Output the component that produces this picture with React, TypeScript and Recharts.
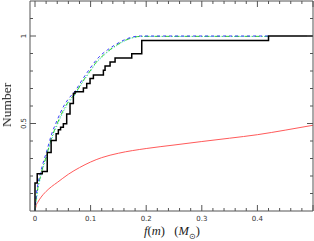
import React from 'react'
import { LineChart, Line, XAxis, YAxis } from 'recharts'

// ── data ─────────────────────────────────────────────────────────────────────

// observed cumulative fraction (black step line)
const stepX = [0, 0, 0.004, 0.013, 0.022, 0.029, 0.038, 0.042, 0.046, 0.051, 0.057, 0.063, 0.069, 0.072, 0.087, 0.093, 0.099, 0.105, 0.123, 0.126, 0.135, 0.144, 0.174, 0.192, 0.42, 0.5]
const stepY = [0, 0.16, 0.213, 0.226, 0.335, 0.403, 0.441, 0.464, 0.479, 0.498, 0.555, 0.614, 0.671, 0.682, 0.703, 0.728, 0.757, 0.777, 0.804, 0.829, 0.852, 0.875, 0.899, 0.975, 1.0, 1.0]

// model curves
const modelX = [0, 0.002, 0.005, 0.01, 0.015, 0.02, 0.03, 0.04, 0.05, 0.06, 0.072, 0.085, 0.099, 0.11, 0.12, 0.13, 0.147, 0.16, 0.175, 0.19, 0.42]
const blueY = [0, 0.08, 0.15, 0.22, 0.28, 0.33, 0.44, 0.52, 0.59, 0.64, 0.685, 0.75, 0.815, 0.862, 0.895, 0.92, 0.955, 0.977, 0.994, 1.0, 1.0]
const greenY = [0, 0.06, 0.13, 0.2, 0.26, 0.31, 0.42, 0.5, 0.57, 0.625, 0.67, 0.737, 0.8, 0.85, 0.882, 0.91, 0.948, 0.972, 0.99, 0.998, 0.998]
const cyanY = [0, 0.05, 0.12, 0.19, 0.25, 0.3, 0.41, 0.49, 0.56, 0.615, 0.665, 0.732, 0.795, 0.845, 0.877, 0.906, 0.945, 0.97, 0.989, 0.997, 0.997]

// red reference curve
const redX = [0, 0.002, 0.005, 0.01, 0.02, 0.03, 0.04, 0.05, 0.06, 0.08, 0.1, 0.12, 0.15, 0.2, 0.25, 0.3, 0.35, 0.4, 0.45, 0.5]
const redY = [0, 0.03, 0.05, 0.075, 0.112, 0.14, 0.163, 0.187, 0.21, 0.248, 0.28, 0.305, 0.33, 0.357, 0.377, 0.397, 0.416, 0.436, 0.462, 0.49]

const xTicks = [0, 0.02, 0.04, 0.06, 0.08, 0.1, 0.12, 0.14, 0.16, 0.18, 0.2, 0.22, 0.24, 0.26, 0.28, 0.3, 0.32, 0.34, 0.36, 0.38, 0.4, 0.42, 0.44, 0.46, 0.48, 0.5]
const xLabels = [0, 0.1, 0.2, 0.3, 0.4]
const yTicks = [0.1, 0.2, 0.3, 0.4, 0.5, 0.6, 0.7, 0.8, 0.9, 1, 1.1]
const yLabels = [0.5, 1]

const pts = (xs: number[], ys: number[]) => xs.map((x, i) => ({ x, y: ys[i] }))
const stepData = pts(stepX, stepY)
const blueData = pts(modelX, blueY)
const greenData = pts(modelX, greenY)
const cyanData = pts(modelX, cyanY)
const redData = pts(redX, redY)

const FRAME = '#555'
const near = (a: number, b: number) => Math.abs(a - b) < 1e-6
const isMajorX = (v: number) => near(v * 10, Math.round(v * 10))
const isMajorY = (v: number) => near(v * 2, Math.round(v * 2))
const fmt = (v: number) => (v === 0 ? '0' : near(v, 1) ? '1' : v.toFixed(1))

const tickFont = { fontSize: 7, fill: '#333', fontFamily: 'DejaVu Sans' }

const XTick = ({ x, y, payload, side }: any) => {
  const v = payload.value
  const len = isMajorX(v) ? 6 : 3
  const dir = side === 'top' ? 1 : -1
  return (
    <g>
      <line x1={x} x2={x} y1={y} y2={y + dir * len} stroke={FRAME} />
      {side === 'bottom' && xLabels.some(l => near(l, v)) && (
        <text x={x} y={y + 10} textAnchor="middle" {...tickFont}>{fmt(v)}</text>
      )}
    </g>
  )
}

const YTick = ({ x, y, payload, side }: any) => {
  const v = payload.value
  const len = isMajorY(v) ? 6 : 3
  const dir = side === 'left' ? 1 : -1
  return (
    <g>
      <line x1={x} x2={x + dir * len} y1={y} y2={y} stroke={FRAME} />
      {side === 'left' && yLabels.some(l => near(l, v)) && (
        <text x={x - 4} y={y} textAnchor="middle" transform={`rotate(-90, ${x - 4}, ${y})`} {...tickFont}>{fmt(v)}</text>
      )}
    </g>
  )
}

export default function App() {
  return (
    <div style={{ position: 'fixed', left: 0, top: 0, width: 314, height: 241, background: '#fff' }}>
      <LineChart width={314} height={241} margin={{ top: 0, right: 0, left: 29, bottom: 29 }}>
        <XAxis
          xAxisId="b" dataKey="x" type="number" domain={[-0.009, 0.5]} ticks={xTicks} interval={0}
          height={1} tickSize={0} tickMargin={0} tickLine={false} allowDataOverflow
          axisLine={{ stroke: FRAME }} tick={(p: any) => <XTick {...p} side="bottom" />}
        />
        <XAxis
          xAxisId="t" orientation="top" dataKey="x" type="number" domain={[-0.009, 0.5]} ticks={xTicks} interval={0}
          height={1} tickSize={0} tickMargin={0} tickLine={false} allowDataOverflow
          axisLine={{ stroke: FRAME }} tick={(p: any) => <XTick {...p} side="top" />}
        />
        <YAxis
          yAxisId="l" dataKey="y" type="number" domain={[0, 1.2]} ticks={yTicks} interval={0}
          width={1} tickSize={0} tickMargin={0} tickLine={false} allowDataOverflow
          axisLine={{ stroke: FRAME }} tick={(p: any) => <YTick {...p} side="left" />}
        />
        <YAxis
          yAxisId="r" orientation="right" dataKey="y" type="number" domain={[0, 1.2]} ticks={yTicks} interval={0}
          width={1} tickSize={0} tickMargin={0} tickLine={false} allowDataOverflow
          axisLine={{ stroke: FRAME }} tick={(p: any) => <YTick {...p} side="right" />}
        />
        <Line xAxisId="b" yAxisId="l" data={redData} dataKey="y" type="monotone" stroke="#ff5a5a" strokeWidth={1} dot={false} isAnimationActive={false} />
        <Line xAxisId="b" yAxisId="l" data={cyanData} dataKey="y" type="monotone" stroke="#33dddd" strokeWidth={1} strokeDasharray="1 2" dot={false} isAnimationActive={false} />
        <Line xAxisId="b" yAxisId="l" data={greenData} dataKey="y" type="monotone" stroke="#33cc33" strokeWidth={1} strokeDasharray="5 2 1 2" dot={false} isAnimationActive={false} />
        <Line xAxisId="b" yAxisId="l" data={blueData} dataKey="y" type="monotone" stroke="#3c3cff" strokeWidth={1} strokeDasharray="3 3" dot={false} isAnimationActive={false} />
        <Line xAxisId="b" yAxisId="l" data={stepData} dataKey="y" type="stepAfter" stroke="#000" strokeWidth={1.5} dot={false} isAnimationActive={false} />
      </LineChart>
      <div style={{
        position: 'absolute', left: 7, top: 105, transform: 'translate(-50%, -50%) rotate(-90deg)',
        fontFamily: 'Liberation Serif', fontSize: 13.5, color: '#222', whiteSpace: 'nowrap',
      }}>
        Number
      </div>
      <div style={{
        position: 'absolute', left: 144, top: 224, fontFamily: 'Liberation Serif', fontSize: 12.5,
        color: '#222', whiteSpace: 'nowrap',
      }}>
        <i>f</i>(<i>m</i>)&nbsp;&nbsp;&nbsp;(<i>M</i><sub style={{ fontSize: 8 }}>⊙</sub>)
      </div>
    </div>
  )
}
